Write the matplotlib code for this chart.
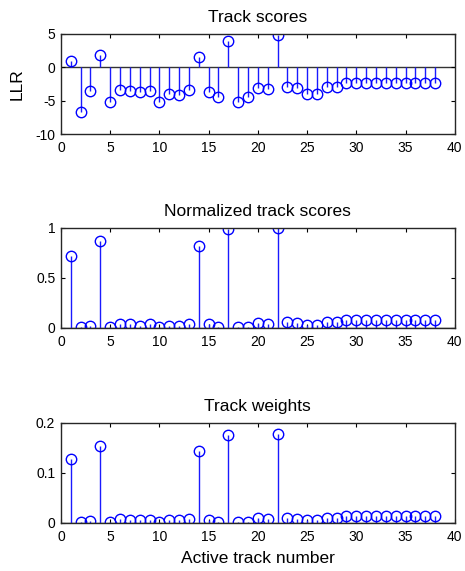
import matplotlib
matplotlib.use("Agg")
import matplotlib.pyplot as plt
import numpy as np

plt.rcParams['font.family'] = ['Liberation Sans', 'DejaVu Sans']

track_ids = list(range(1, 39))

llr = [1.0, -6.75, -3.6, 1.9, -5.2, -3.35, -3.6, -3.75, -3.6, -5.2,
       -4.0, -4.2, -3.45, 1.55, -3.65, -4.45, 3.9, -5.15, -4.45, -3.1,
       -3.25, 4.8, -2.95, -3.1, -4.0, -4.0, -2.95, -2.95, -2.4, -2.4,
       -2.4, -2.4, -2.4, -2.4, -2.4, -2.4, -2.4, -2.4]

norm_scores = [0.717, 0.01, 0.017, 0.867, 0.01, 0.037, 0.037, 0.023, 0.037, 0.007,
               0.023, 0.023, 0.037, 0.817, 0.037, 0.013, 0.993, 0.01, 0.01, 0.05,
               0.043, 1.0, 0.057, 0.05, 0.027, 0.027, 0.063, 0.063, 0.083, 0.083,
               0.083, 0.083, 0.083, 0.083, 0.083, 0.083, 0.083, 0.083]

weights = [0.127, 0.0013, 0.004, 0.153, 0.001, 0.007, 0.005, 0.005, 0.005, 0.001,
           0.005, 0.005, 0.007, 0.144, 0.005, 0.002, 0.176, 0.0013, 0.0013, 0.009,
           0.007, 0.178, 0.009, 0.008, 0.005, 0.005, 0.009, 0.010, 0.013, 0.013,
           0.013, 0.013, 0.013, 0.013, 0.013, 0.013, 0.013, 0.013]

titles = ["Track scores", "Normalized track scores", "Track weights"]
ylims = [(-10, 5), (0, 1), (0, 0.2)]
yticks = [[-10, -5, 0, 5], [0, 0.5, 1], [0, 0.1, 0.2]]
yticklabels = [["-10", "-5", "0", "5"], ["0", "0.5", "1"], ["0", "0.1", "0.2"]]
xticks = [0, 5, 10, 15, 20, 25, 30, 35, 40]

fig = plt.figure(figsize=(4.65, 5.71), dpi=100)
positions = [
    [0.131, 0.7653, 0.847, 0.1752],
    [0.131, 0.4256, 0.847, 0.1752],
    [0.131, 0.0841, 0.847, 0.1752],
]
series = [llr, norm_scores, weights]

for i, (pos, vals) in enumerate(zip(positions, series)):
    ax = fig.add_axes(pos)
    ml, sl, bl = ax.stem(track_ids, vals, basefmt='none')
    plt.setp(sl, color='#1a1aff', linewidth=1.0)
    plt.setp(ml, marker='o', markersize=7.5, markerfacecolor='none',
             markeredgecolor='#0000ff', markeredgewidth=1.0)
    ax.axhline(0, color='#333333', linewidth=1.0, zorder=1)
    ax.set_xlim(0, 40)
    ax.set_ylim(*ylims[i])
    ax.set_xticks(xticks)
    ax.set_yticks(yticks[i])
    ax.set_yticklabels(yticklabels[i])
    ax.tick_params(direction='in', top=True, right=True, length=3,
                   width=0.8, labelsize=10, colors='black')
    ax.tick_params(axis='x', pad=5)
    ax.tick_params(axis='y', pad=4)
    for s in ax.spines.values():
        s.set_linewidth(1.0)
        s.set_color('#262626')
    ax.set_title(titles[i], fontsize=12.5, pad=8.5)
    if i == 0:
        ax.set_ylabel("LLR", fontsize=12.5, labelpad=8)
    if i == 2:
        ax.set_xlabel("Active track number", fontsize=12.5, labelpad=5)

fig.savefig("out.png", dpi=100)
